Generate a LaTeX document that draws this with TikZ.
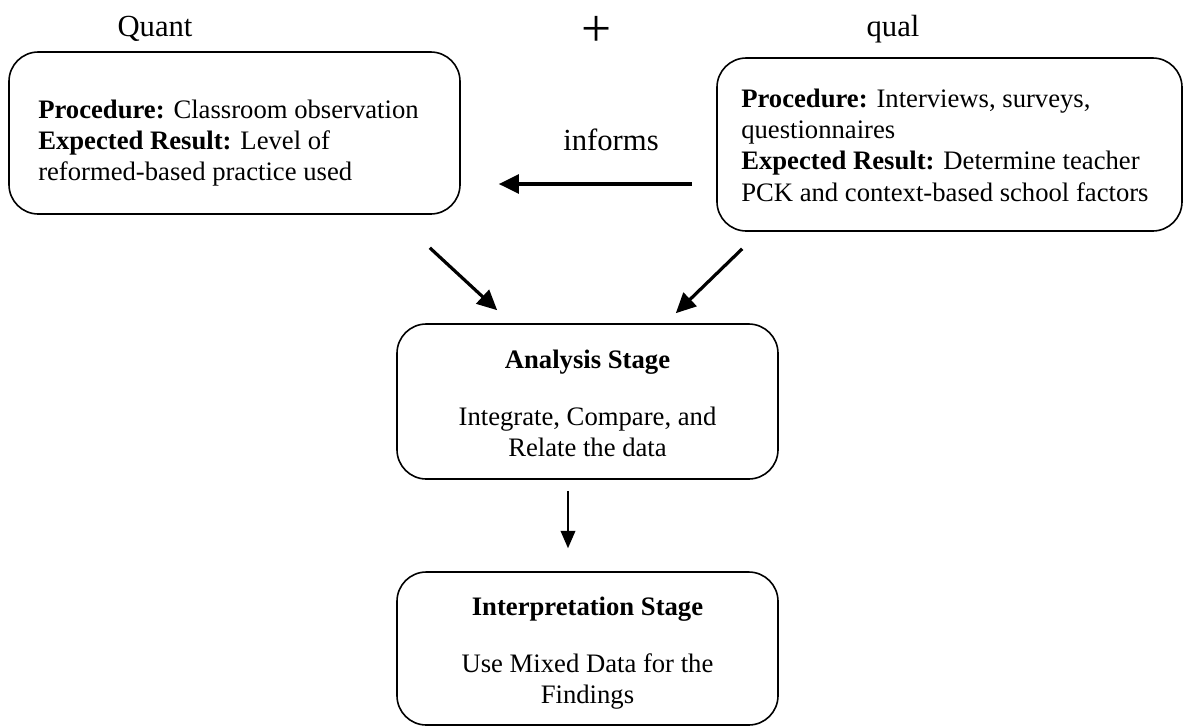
\documentclass[tikz,border=0pt]{standalone}
\usepackage{fontspec}
\setmainfont{Liberation Serif}
\usepackage{tikz}
\usepackage{xcolor}
\usetikzlibrary{arrows.meta,calc}

\begin{document}
\begin{tikzpicture}[x=0.75pt, y=-0.75pt,
    stagebox/.style={draw=black, line width=1.2pt, rounded corners=22pt, inner sep=0pt},
    boxtext/.style={font=\fontsize{20}{23.5}\selectfont, inner sep=0pt},
    toplabel/.style={font=\fontsize{23}{27}\selectfont, inner sep=0pt, anchor=base},
    bigflow/.style={line width=2.4pt, -{Triangle[length=15pt, width=14pt]}},
    smallflow/.style={line width=1.1pt, -{Triangle[length=13pt, width=11pt]}}]
  \useasboundingbox (0,0) rectangle (1183,726);
  % labels above the boxes
  \node[toplabel] (quant) at (155,36) {Quant};
  \node[font=\fontsize{40}{40}\selectfont, inner sep=0pt] (plus) at (597,31) {+};
  \node[toplabel] (qual) at (893,36) {qual};
  % boxes
  \node[stagebox, minimum width=451*0.75pt, minimum height=162*0.75pt] (quantbox) at (234.5,133) {};
  \node[stagebox, minimum width=465*0.75pt, minimum height=173*0.75pt] (qualbox) at (949.5,144.5) {};
  \node[stagebox, minimum width=381*0.75pt, minimum height=155*0.75pt] (anabox) at (587.5,401.5) {};
  \node[stagebox, minimum width=381*0.75pt, minimum height=153*0.75pt] (interbox) at (587.5,648.5) {};
  % box texts
  \node[boxtext, anchor=west, align=left] (quanttext) at (38,143)
    {\textbf{Procedure:} Classroom observation\\
     \textbf{Expected Result:} Level of\\
     reformed-based practice used};
  \node[boxtext, anchor=west, align=left] (qualtext) at (741,145)
    {\textbf{Procedure:} Interviews, surveys,\\
     questionnaires\\
     \textbf{Expected Result:} Determine teacher\\
     PCK and context-based school factors};
  \node[boxtext, align=center] (anatext) at (587.5,403.5)
    {\textbf{Analysis Stage}\\[19pt]
     Integrate, Compare, and\\
     Relate the data};
  \node[boxtext, align=center] (intertext) at (587.5,653.5)
    {\textbf{Interpretation Stage}\\[19pt]
     Use Mixed Data for the\\
     Findings};
  \node[toplabel] (informs) at (611,150) {informs};
  % arrows
  \draw[bigflow] ($(qualbox.west)+(-24,39.5)$) -- ($(quantbox.east)+(38,51)$);
  \draw[bigflow] ($(quantbox.south east)+(-31,33)$) -- ($(anabox.north west)+(101,-13)$);
  \draw[bigflow] ($(qualbox.south west)+(26,17)$) -- ($(anabox.north east)+(-103,-10)$);
  \draw[smallflow] ($(anabox.south)+(-19.5,11)$) -- ($(interbox.north)+(-19.5,-23)$);
\end{tikzpicture}
\end{document}
